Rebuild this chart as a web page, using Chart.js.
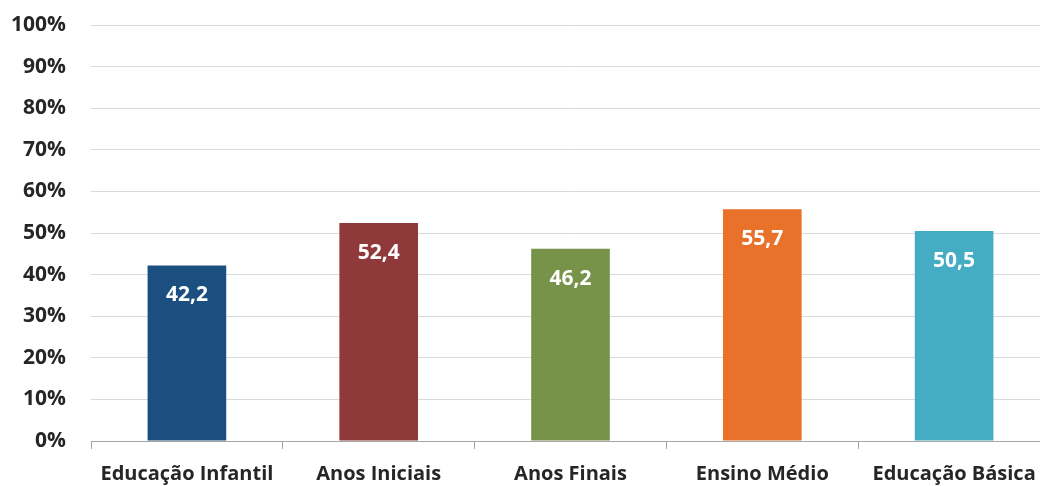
<!DOCTYPE html>
<html>
<head>
<meta charset="utf-8">
<script src="https://cdn.jsdelivr.net/npm/chart.js@4"></script>
<style>
    html, body { margin: 0; padding: 0; background: #fff; overflow: hidden; }
    #wrap { width: 1050px; height: 486px; }
</style>
</head>
<body>
<div id="wrap"><canvas id="chart" width="1050" height="486"></canvas></div>
<script>
const categories = ['Educação Infantil', 'Anos Iniciais', 'Anos Finais', 'Ensino Médio', 'Educação Básica'];
const values = [42.2, 52.4, 46.2, 55.7, 50.5];
const barColors = ['#1b4f7f', '#8f393b', '#77934a', '#e8722a', '#44adc4'];
const yTicks = [0, 10, 20, 30, 40, 50, 60, 70, 80, 90, 100];

const FONT = '"Open Sans", Lato, sans-serif';

const valueLabels = {
    id: 'valueLabels',
    afterDatasetsDraw(chart) {
        const ctx = chart.ctx;
        const meta = chart.getDatasetMeta(0);
        ctx.save();
        ctx.fillStyle = '#ffffff';
        ctx.font = 'bold 21px ' + FONT;
        ctx.textAlign = 'center';
        ctx.textBaseline = 'middle';
        meta.data.forEach((bar, i) => {
            const txt = values[i].toFixed(1).replace('.', ',');
            ctx.fillText(txt, bar.x, bar.y + 30);
        });
        ctx.restore();
    }
};

new Chart(document.getElementById('chart'), {
    type: 'bar',
    plugins: [valueLabels],
    data: {
        labels: categories,
        datasets: [{
            data: values,
            backgroundColor: barColors,
            borderWidth: 0,
            barPercentage: 0.41,
            categoryPercentage: 1
        }]
    },
    options: {
        responsive: false,
        animation: false,
        layout: { padding: { top: 25, left: 0, right: 0, bottom: 0 } },
        plugins: { legend: { display: false }, tooltip: { enabled: false } },
        scales: {
            x: {
                offset: true,
                grid: {
                    offset: true,
                    drawOnChartArea: false,
                    drawTicks: true,
                    tickLength: 8,
                    color: '#a6a6a6'
                },
                border: { color: '#a6a6a6', width: 1 },
                ticks: {
                    color: '#262626',
                    padding: 13,
                    font: { family: FONT, size: 20, weight: 'bold' }
                },
                afterFit: s => { s.height = 45; }
            },
            y: {
                min: 0,
                max: 100,
                afterBuildTicks: s => { s.ticks = yTicks.map(v => ({ value: v })); },
                grid: { color: '#d9d9d9', drawTicks: false },
                border: { display: false },
                ticks: {
                    color: '#262626',
                    padding: 25,
                    font: { family: FONT, size: 21, weight: 'bold' },
                    callback: v => v + '%'
                },
                afterFit: s => { s.width = 91; s.paddingTop = 0; s.paddingBottom = 0; }
            }
        }
    }
});
</script>
</body>
</html>
